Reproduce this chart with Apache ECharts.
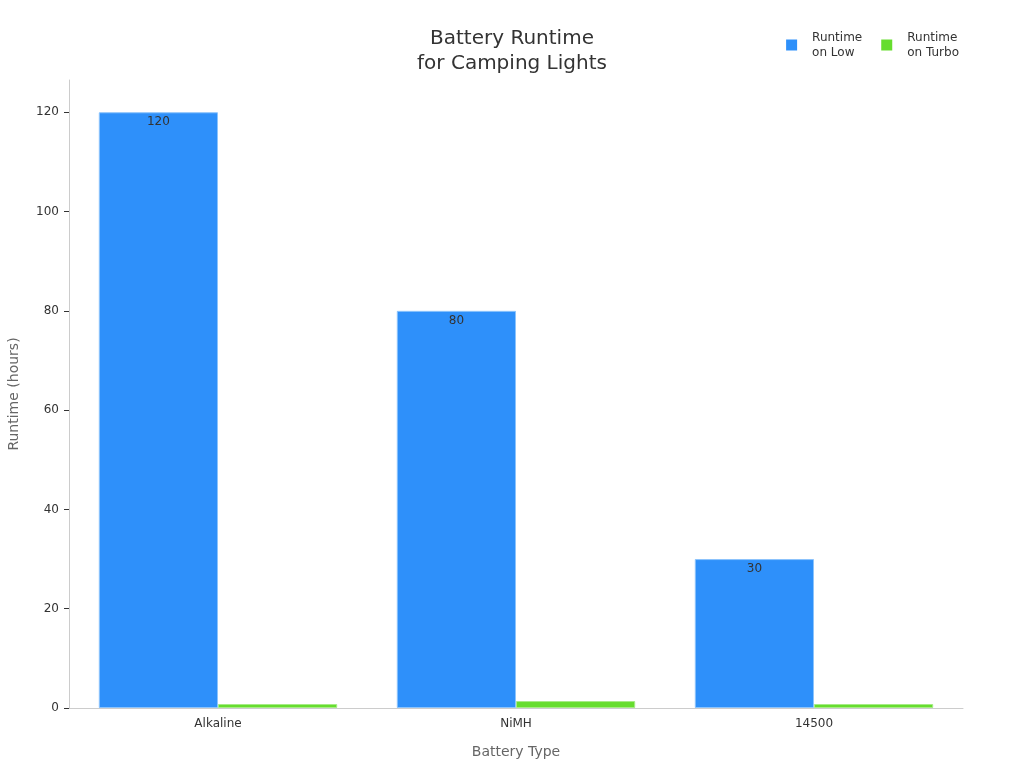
<!DOCTYPE html>
<html>
<head>
<meta charset="utf-8">
<script src="https://cdn.jsdelivr.net/npm/echarts@6/dist/echarts.min.js"></script>
<style>html,body{margin:0;padding:0;background:#fff;}#c{width:1024px;height:768px;}</style>
</head>
<body>
<div id="c"></div>
<script>
var categories = ['Alkaline', 'NiMH', '14500'];
var runtimeLow = [120, 80, 30];
var runtimeTurbo = [0.8, 1.4, 0.8];
var yTicks = [0, 20, 40, 60, 80, 100, 120];

var chart = echarts.init(document.getElementById('c'));
chart.setOption({
  animation: false,
  textStyle: { fontFamily: 'DejaVu Sans' },
  title: {
    text: 'Battery Runtime\nfor Camping Lights',
    left: 'center', top: 21,
    textStyle: { fontSize: 20, fontWeight: 'normal', color: '#333', lineHeight: 25, fontFamily: 'DejaVu Sans' }
  },
  legend: {
    right: 60, top: 25,
    itemWidth: 11, itemHeight: 11, itemGap: 19,
    icon: 'rect',
    itemStyle: { borderWidth: 0 },
    textStyle: { fontSize: 12, color: '#333', lineHeight: 15, padding: [0, 0, 0, 10] },
    data: ['Runtime\non Low', 'Runtime\non Turbo']
  },
  grid: { left: 69, right: 61, top: 80, bottom: 60, containLabel: false, outerBoundsMode: 'none' },
  xAxis: {
    type: 'category', data: categories,
    name: 'Battery Type', nameLocation: 'middle', nameGap: 37,
    nameTextStyle: { fontSize: 14, color: '#666' },
    axisLine: { lineStyle: { color: '#ccc' } },
    axisTick: { alignWithLabel: true, lineStyle: { color: '#333' } },
    axisLabel: { color: '#333', fontSize: 12, margin: 10 }
  },
  yAxis: {
    type: 'value', min: 0, max: 126.5, interval: 20,
    name: 'Runtime (hours)', nameLocation: 'middle', nameGap: 48,
    nameTextStyle: { fontSize: 14, color: '#666' },
    axisLine: { show: true, lineStyle: { color: '#ccc' } },
    axisTick: { show: true, lineStyle: { color: '#333' } },
    splitLine: { show: false },
    axisLabel: { color: '#333', fontSize: 12, margin: 10, showMaxLabel: false,
      formatter: function (v) { return yTicks.indexOf(v) >= 0 ? String(v) : ''; } }
  },
  series: [
    {
      name: 'Runtime\non Low', type: 'bar', data: runtimeLow,
      barGap: '0%', barCategoryGap: '20%',
      itemStyle: { color: '#2E90FA', borderColor: '#8CC4FC', borderWidth: 1 },
      label: { show: true, position: 'insideTop', color: '#333', fontSize: 12, distance: 4 }
    },
    {
      name: 'Runtime\non Turbo', type: 'bar', data: runtimeTurbo,
      itemStyle: { color: '#66DD2E', borderColor: '#A6EC86', borderWidth: 1 },
      label: { show: false }
    }
  ]
});
</script>
</body>
</html>
